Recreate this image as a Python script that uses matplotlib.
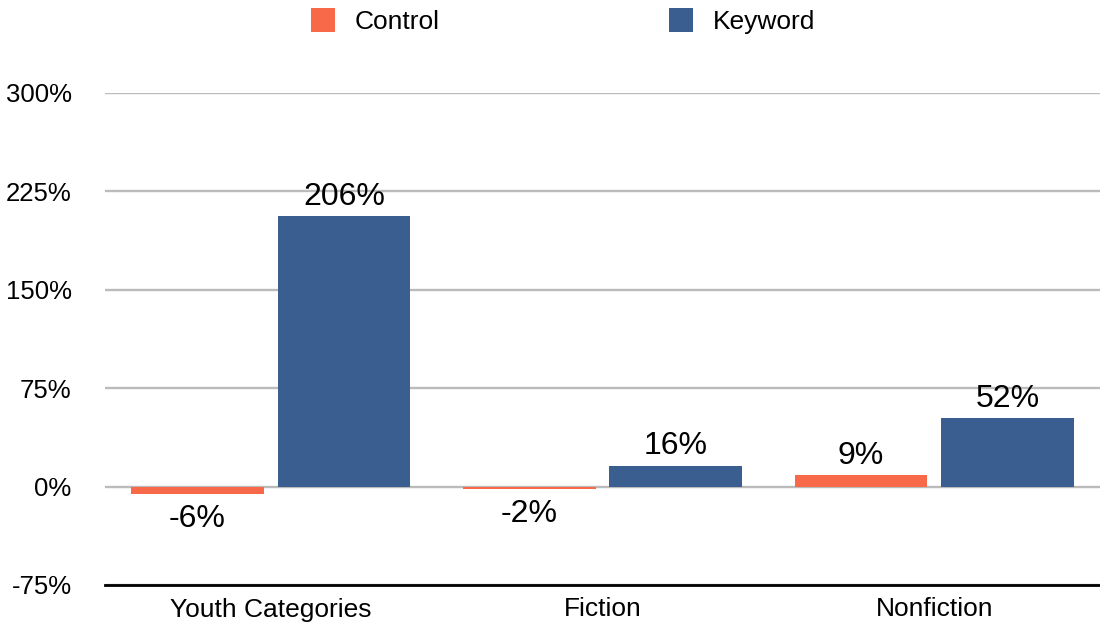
import matplotlib.pyplot as plt
import numpy as np

plt.rcParams['font.family'] = ['Liberation Sans', 'DejaVu Sans']

categories = ["Youth Categories", "Fiction", "Nonfiction"]
control = [-6, -2, 9]
keyword = [206, 16, 52]
series_names = ["Control", "Keyword"]
yticks = [-75, 0, 75, 150, 225, 300]

c_control = "#F8694A"
c_keyword = "#3A5E90"

fig = plt.figure(figsize=(11, 6.27), dpi=100)
ax = fig.add_axes([105 / 1100, 42 / 627, 995 / 1100, 492 / 627])

x = np.arange(len(categories))
w = 0.40
off = 0.221
b1 = ax.bar(x - off, control, w, color=c_control, label=series_names[0], zorder=3)
b2 = ax.bar(x + off, keyword, w, color=c_keyword, label=series_names[1], zorder=3)

for bars, vals in [(b1, control), (b2, keyword)]:
    for r, v in zip(bars, vals):
        cx = r.get_x() + r.get_width() / 2
        if v >= 0:
            ax.annotate(f"{v}%", (cx, v), xytext=(0, 8), textcoords="offset points",
                        ha="center", va="baseline", fontsize=23)
        else:
            ax.annotate(f"{v}%", (cx, v), xytext=(0, -7), textcoords="offset points",
                        ha="center", va="top", fontsize=23)

ax.set_xlim(-0.5, 2.5)
ax.set_ylim(-75, 300)
ax.set_yticks(yticks)
ax.set_yticklabels([f"{t}%" for t in yticks], fontsize=18.5)
ax.set_xticks(x)
ax.set_xticklabels(categories, fontsize=19)
ax.tick_params(axis="y", length=0, pad=24)
ax.tick_params(axis="x", length=0, pad=9)

ax.grid(axis="y", color="#BBBBBB", linewidth=1.7, zorder=1)
for s in ["top", "right", "left"]:
    ax.spines[s].set_visible(False)
ax.spines["bottom"].set_color("black")
ax.spines["bottom"].set_linewidth(2)
ax.spines["bottom"].set_zorder(4)

fig.legend(handles=[b1, b2], loc="center", bbox_to_anchor=(0.512, 0.966), ncol=2,
           frameon=False, fontsize=19, handlelength=0.91, handleheight=1.02,
           handletextpad=0.76, columnspacing=8.7)

fig.savefig("out.png", dpi=100)
